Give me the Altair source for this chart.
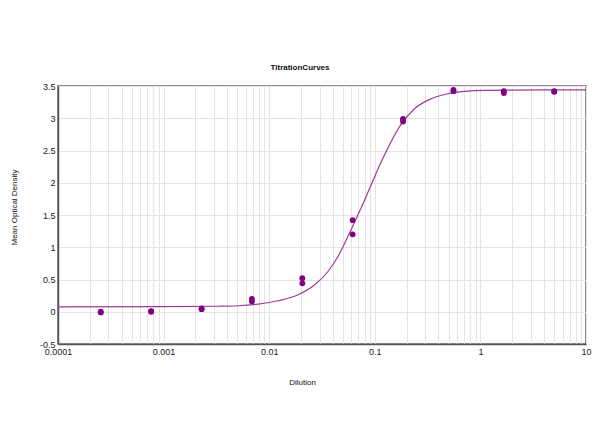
import altair as alt
import pandas as pd

# Measured points (dilution, mean optical density), replicates
pt_dilution = [0.000254, 0.000254, 0.000762, 0.000762, 0.00229, 0.00229,
               0.00686, 0.00686, 0.0206, 0.0206, 0.0617, 0.0617,
               0.185, 0.185, 0.556, 0.556, 1.667, 1.667, 5.0, 5.0]
pt_od = [0.00, -0.01, 0.01, 0.00, 0.05, 0.04,
         0.20, 0.16, 0.52, 0.44, 1.42, 1.20,
         2.99, 2.95, 3.44, 3.42, 3.42, 3.39, 3.42, 3.41]

# Fitted curve
curve_dilution = [0.0001, 0.001, 0.00316, 0.00508, 0.00785, 0.01213, 0.01875,
                  0.0270, 0.0360, 0.0448, 0.0556, 0.0692, 0.0802, 0.0925,
                  0.1148, 0.1429, 0.1774, 0.2377, 0.341, 0.491, 0.706, 1.09, 10.0]
curve_od = [0.077, 0.078, 0.085, 0.093, 0.119, 0.170, 0.263,
            0.418, 0.624, 0.856, 1.166, 1.502, 1.734, 1.97,
            2.32, 2.64, 2.905, 3.147, 3.302, 3.380, 3.417, 3.433, 3.44]

decades = [0.0001, 0.001, 0.01, 0.1, 1.0]
x_ticks = [round(k * d, 6) for d in decades for k in range(1, 10)] + [10.0]
y_ticks = [-0.5, 0, 0.5, 1, 1.5, 2, 2.5, 3, 3.5]

pts = pd.DataFrame({"dilution": pt_dilution, "od": pt_od})
crv = pd.DataFrame({"dilution": curve_dilution, "od": curve_od})

FONT = "Liberation Sans"

xenc = alt.X(
    "dilution:Q",
    scale=alt.Scale(type="log", domain=[0.0001, 10], nice=False),
    axis=alt.Axis(
        values=x_ticks,
        labelExpr="abs(log(datum.value)/LN10 - round(log(datum.value)/LN10)) < 0.001 ? format(datum.value, '~g') : ''",
        title="Dilution",
        titleX=244, titleY=38, titleBaseline="middle", titleAlign="center",
        grid=True, ticks=False, labelPadding=3, labelFlush=False,
        labelOverlap=False,
    ),
)
yenc = alt.Y(
    "od:Q",
    scale=alt.Scale(domain=[-0.5, 3.5], nice=False, zero=False),
    axis=alt.Axis(
        values=y_ticks,
        labelExpr="'' + datum.value",
        title="Mean Optical Density",
        titleX=-44, titleY=121, titleBaseline="middle", titleAlign="center",
        titleAngle=270,
        grid=True, ticks=False, labelPadding=3, labelFlush=False,
    ),
)

line = alt.Chart(crv).mark_line(color="#9b3b9b", strokeWidth=1.2, interpolate="monotone").encode(
    x=xenc, y=yenc
)
dots = alt.Chart(pts).mark_circle(color="#800080", size=34, opacity=1).encode(
    x=xenc, y=yenc
)

chart = (
    alt.layer(line, dots)
    .properties(
        width=528,
        height=258,
        title=alt.TitleParams("TitrationCurves", fontSize=8, fontWeight="bold", font=FONT,
                              color="#111", anchor="middle", dx=-22, offset=10),
        autosize=alt.AutoSizeParams(type="none"),
        padding={"left": 50, "top": 78, "right": 6, "bottom": 95},
    )
    .configure(background="white")
    .configure_view(stroke="#6a6a6a", strokeWidth=1.5)
    .configure_axis(
        labelFont=FONT, labelFontSize=9, labelColor="#222",
        titleFont=FONT, titleFontSize=8, titleFontWeight="normal", titleColor="#111",
        gridColor="#e4e4e4", gridWidth=1,
        domainColor="#555", domainWidth=1.5,
    )
)

chart.save("out.html", embed_options={"renderer": "svg", "actions": False})
